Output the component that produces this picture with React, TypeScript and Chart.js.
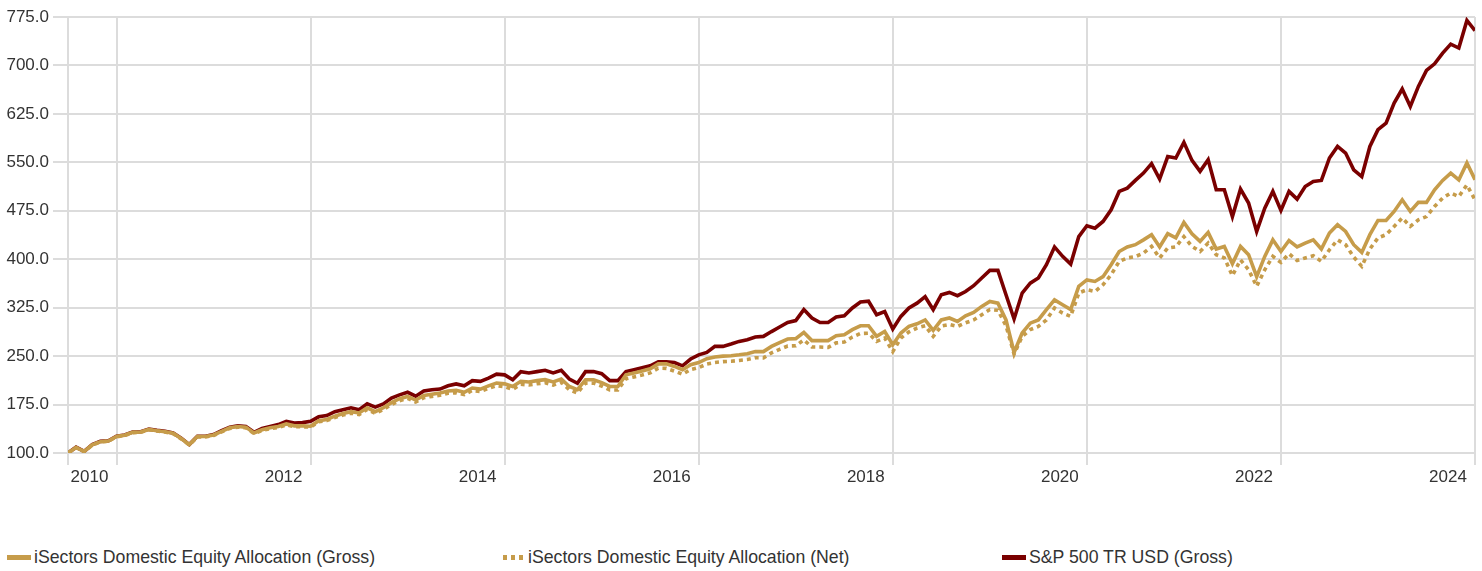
import React, { useEffect, useRef } from 'react';
import { Chart, registerables } from 'chart.js';

Chart.register(...registerables);

// Monthly series, Jun 2010 .. Dec 2024 (growth of 100)
const START_YEAR = 2010;
const START_MONTH = 6;

const seriesNames = [
  'iSectors Domestic Equity Allocation (Gross)',
  'iSectors Domestic Equity Allocation (Net)',
  'S&P 500 TR USD (Gross)',
];

const yearLabels = ['2010', '2012', '2014', '2016', '2018', '2020', '2022', '2024'];
const yTickValues = [100, 175, 250, 325, 400, 475, 550, 625, 700, 775];

const grossValues = [
  100, 108.5, 102.5, 112.5, 117.5, 118.5, 125.5, 127.5, 132, 132.5,
  136.5, 134.5, 133, 130.5, 122.5, 113, 125.5, 125.5, 128, 133.5,
  139, 141, 140, 131, 136, 139, 141, 145, 142, 142,
  141.5, 150, 152, 157, 161, 164, 162, 170, 164, 170,
  178, 184, 187.6, 182, 189, 191, 193, 196, 197, 194,
  200.6, 199, 204, 208.4, 207, 203, 211, 210, 212, 213.5,
  210, 214.5, 203, 198, 213.5, 213.5, 209, 203, 203, 221,
  224, 227, 230.5, 238, 238, 234, 229, 236.7, 240, 246,
  248.6, 250, 250.6, 252, 253.7, 257, 257, 265, 271, 276.5,
  277, 286.7, 274, 274, 274, 281.6, 283, 291, 297, 297,
  280.5, 288, 267.6, 285.7, 296, 300, 306, 289.8, 306, 309,
  303.7, 312.5, 317.6, 327, 334.7, 332, 306, 255.7, 285.7, 301,
  306, 322, 337, 329.6, 322, 358, 368, 365.6, 373, 391.5,
  412, 419, 422.5, 430, 438, 419, 439.5, 433, 457, 439.5,
  427.6, 441.5, 415.8, 419.8, 393, 419.8, 407, 373, 404.4, 430,
  412, 429, 419, 425, 430, 415.8, 440.6, 453.4, 443, 422.5,
  410.6, 438, 460, 460, 474, 492, 474, 488, 488, 507.6,
  522, 533.4, 523, 549, 523,
];

const netValues = [
  100, 108.4, 102.3, 112.3, 117.2, 118.2, 125.1, 127.1, 131.5, 132,
  136, 134, 132.4, 129.9, 121.8, 112.4, 124.8, 124.8, 127.2, 132.7,
  138.1, 140, 139, 130.1, 135, 137.8, 139.6, 143.5, 140.6, 140.5,
  140, 148.3, 150.2, 155, 158.8, 161.7, 159.6, 167.5, 161.3, 167.4,
  175.1, 181, 184.5, 178.8, 185.7, 187.6, 189.5, 192.4, 193.3, 190.3,
  196.8, 195.1, 200, 204.2, 202.7, 198.6, 206.4, 205.3, 207.2, 208.6,
  205.1, 209.4, 198, 193, 208.2, 208.1, 203.6, 197.6, 197.5, 215,
  217.8, 220.7, 224, 231.2, 231, 226.8, 221.9, 229.2, 232.2, 237.8,
  240.2, 241.5, 242, 243.2, 244.7, 247.5, 247.3, 255, 260.5, 265.6,
  266, 275, 264, 264, 263.5, 270.5, 271.8, 279.5, 285, 285.5,
  272.8, 278, 257, 278, 287.5, 293.5, 297, 280.5, 296.5, 299,
  296, 301.5, 306, 314, 322, 321, 297, 253, 280.5, 291,
  296, 306, 324.5, 316.7, 311.5, 347.7, 352.8, 350, 360.5, 376,
  396.6, 402, 404, 409.6, 419.8, 402, 417.3, 419, 435, 419.8,
  412, 425, 407, 402, 374.5, 399, 383.7, 358, 383.7, 404.4,
  395, 408.5, 398, 402, 405.4, 396.6, 414.7, 430, 422.5, 403.4,
  389, 415.8, 433, 438, 450.8, 463.8, 450.8, 461, 466, 481.7,
  494.7, 502.5, 497, 515, 492,
];

const spxValues = [
  100, 109, 102.5, 113, 118, 119, 126, 128, 132.5, 133,
  137, 135, 133.5, 131, 123, 113, 126, 126, 128.5, 134.5,
  140, 142, 141, 132, 138, 141, 144, 149, 146.5, 147,
  149, 156, 158, 164, 167, 170, 167, 176, 171, 176,
  185, 190, 194, 188, 196, 198, 199, 204, 207, 204,
  212, 211, 216, 222, 221, 213.5, 226, 224, 226, 228,
  224, 228, 214.5, 208, 226, 226, 222.7, 212, 212, 226,
  229, 232, 235, 241, 241, 240, 235, 245.5, 252, 255.7,
  265, 265, 268.7, 272.8, 275.4, 279.5, 280.5, 288, 295, 302,
  305, 322, 309, 302, 302, 310.5, 312.5, 324.5, 333.7, 335,
  314, 319, 292, 311.5, 324.5, 332, 342, 322, 345, 348.6,
  343.5, 350, 359, 371, 382.7, 382.7, 345, 307.5, 347.7, 363,
  371, 391.5, 419, 404.4, 392.5, 435, 451.8, 448, 458.5, 476.6,
  505, 510, 522, 533.4, 548, 524, 559, 556.7, 581, 553,
  536, 554, 507.6, 507.6, 466, 508.7, 487, 443, 479, 505,
  475.6, 505, 493, 512.6, 520.5, 522, 556.7, 574.6, 564.4, 538.5,
  528, 574.6, 600.5, 610.8, 641.8, 663.5, 636.6, 667.5, 692.3, 702.6,
  719.2, 733, 727, 769.7, 754,
];

const GOLD = '#C69C4A';
const RED = '#7A0000';
const GRID = '#DCDCDC';
const TEXT = '#333333';
const FONT_FAMILY = "'Liberation Sans Narrow', 'Arial Narrow', 'Liberation Sans', sans-serif";

export default function App() {
  const canvasRef = useRef<HTMLCanvasElement | null>(null);

  useEffect(() => {
    document.body.style.margin = '0';
    const toPoints = (arr: number[]) => arr.map((v, i) => ({ x: i, y: v }));
    const yearTickIndex = yearLabels.map((y) => (Number(y) - START_YEAR) * 12 + (12 - START_MONTH));
    const font = { family: FONT_FAMILY, size: 17 };

    const chart = new Chart(canvasRef.current as HTMLCanvasElement, {
      type: 'line',
      data: {
        datasets: [
          {
            label: seriesNames[0],
            data: toPoints(grossValues),
            borderColor: GOLD,
            backgroundColor: GOLD,
            borderWidth: 3.6,
            pointRadius: 0,
            tension: 0,
            order: 0,
          },
          {
            label: seriesNames[1],
            data: toPoints(netValues),
            borderColor: GOLD,
            backgroundColor: GOLD,
            borderWidth: 3.6,
            borderDash: [4, 4],
            pointRadius: 0,
            tension: 0,
            order: 1,
          },
          {
            label: seriesNames[2],
            data: toPoints(spxValues),
            borderColor: RED,
            backgroundColor: RED,
            borderWidth: 3.6,
            pointRadius: 0,
            tension: 0,
            order: 2,
          },
        ],
      },
      options: {
        animation: false,
        responsive: true,
        maintainAspectRatio: false,
        layout: { padding: { top: 17, right: 7, left: 0, bottom: 0 } },
        plugins: { legend: { display: false }, tooltip: { enabled: false } },
        scales: {
          x: {
            type: 'linear',
            min: 0,
            max: spxValues.length - 1,
            afterBuildTicks: (s: any) => {
              s.ticks = [0, ...yearTickIndex].map((v) => ({ value: v }));
            },
            afterFit: (s: any) => {
              s.height = 40;
              s.paddingLeft = 0;
              s.paddingRight = 0;
            },
            ticks: {
              autoSkip: false,
              maxRotation: 0,
              labelOffset: -27,
              padding: 2,
              color: TEXT,
              font,
              callback: (v: any) => {
                const k = yearTickIndex.indexOf(Number(v));
                return k >= 0 ? yearLabels[k] : '';
              },
            },
            grid: { color: GRID, lineWidth: 2, tickLength: 12 },
            border: { display: false },
          },
          y: {
            min: 100,
            max: 775,
            afterBuildTicks: (s: any) => {
              s.ticks = yTickValues.map((v) => ({ value: v }));
            },
            afterFit: (s: any) => {
              s.width = 68;
              s.paddingTop = 0;
              s.paddingBottom = 0;
            },
            ticks: {
              padding: 4,
              color: TEXT,
              font,
              callback: (v: any) => Number(v).toFixed(1),
            },
            grid: { color: GRID, lineWidth: 2, tickLength: 15 },
            border: { display: false },
          },
        },
      },
    });
    return () => chart.destroy();
  }, []);

  const legendItem = (i: number, left: number, swatch: React.ReactNode) => (
    <div
      key={i}
      style={{ position: 'absolute', left, top: 0, display: 'flex', alignItems: 'center', whiteSpace: 'nowrap' }}
    >
      {swatch}
      <span style={{ marginLeft: 3 }}>{seriesNames[i]}</span>
    </div>
  );

  return (
    <div style={{ width: 1482, fontFamily: FONT_FAMILY, color: TEXT }}>
      <div style={{ position: 'relative', width: 1482, height: 493 }}>
        <canvas ref={canvasRef} />
      </div>
      <div style={{ position: 'relative', height: 60, marginTop: 54, fontSize: 17.7, lineHeight: '21px' }}>
        {legendItem(0, 7, <div style={{ width: 24, height: 5, background: GOLD }} />)}
        {legendItem(
          1,
          503,
          <div
            style={{
              width: 22,
              height: 5,
              background: `repeating-linear-gradient(to right, ${GOLD} 0 4px, transparent 4px 8px)`,
            }}
          />
        )}
        {legendItem(2, 1002, <div style={{ width: 24, height: 5, background: RED }} />)}
      </div>
    </div>
  );
}
